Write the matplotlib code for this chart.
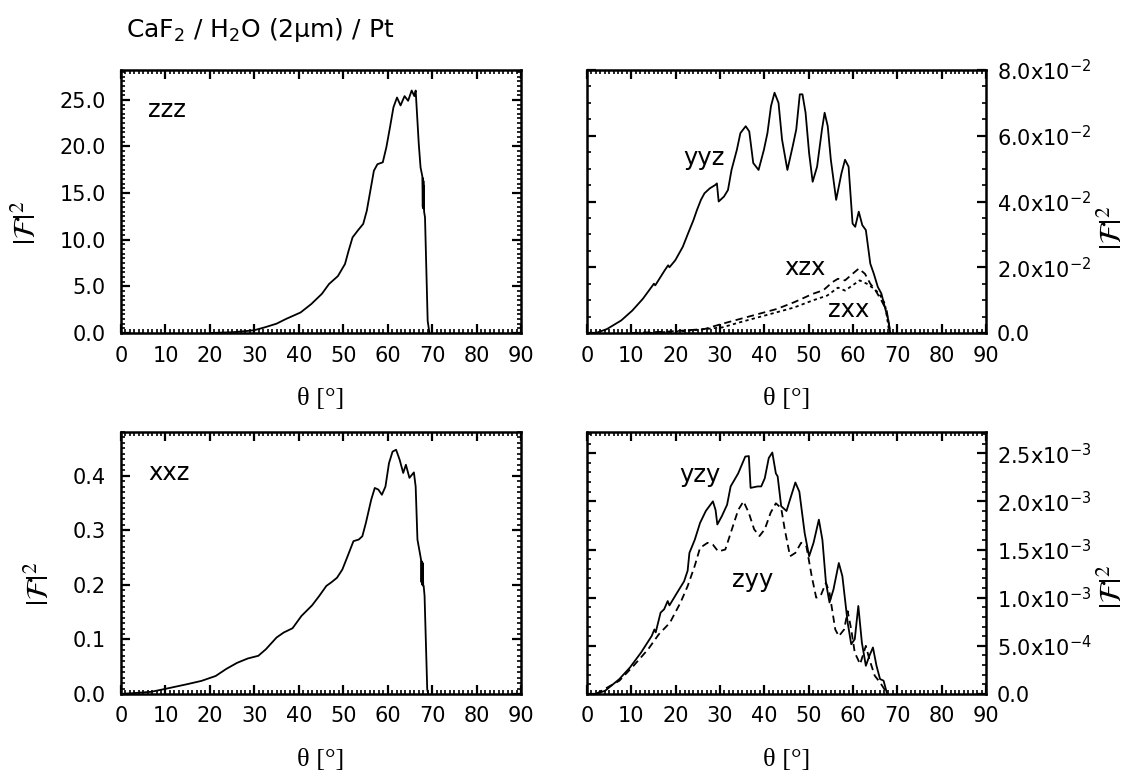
import matplotlib
matplotlib.use("Agg")
import matplotlib.pyplot as plt
from matplotlib.ticker import MultipleLocator, FixedLocator, FixedFormatter

plt.rcParams['font.family'] = ['DejaVu Sans']
plt.rcParams['mathtext.fontset'] = 'dejavusans'
plt.rcParams['xtick.labelsize'] = 15
plt.rcParams['ytick.labelsize'] = 15

# ---------------- data ----------------
title = "CaF$_2$ / H$_2$O (2\u03bcm) / Pt"

# zzz (top-left)
zzz_theta = [20, 25, 28, 30, 32.3, 35, 37.1, 40.4, 42.8, 45.2, 46.8, 48.8, 50.4, 51.2, 52.1,
             53.3, 54.5, 55.3, 56.1, 56.9, 57.7, 58.9, 59.7, 60.5, 61.3, 62.1, 62.9, 63.8,
             64.6, 65.4, 66.0, 66.3, 67.0, 67.4, 67.8, 67.9, 67.95, 68.0, 68.05, 68.1, 68.15,
             68.2, 68.4, 69.0, 69.4]
zzz_val = [0.0, 0.08, 0.2, 0.3, 0.6, 1.0, 1.5, 2.2, 3.1, 4.2, 5.25, 6.1, 7.4, 8.8, 10.25,
           11.0, 11.7, 13.1, 15.25, 17.4, 18.1, 18.3, 19.9, 22.0, 24.2, 25.25, 24.4, 25.4,
           24.9, 26.0, 25.4, 26.0, 20.25, 17.75, 16.8, 13.5, 16.6, 13.4, 16.3, 13.3, 15.8,
           13.0, 12.4, 1.3, 0.0]

# yyz (top-right, solid)
yyz_theta = [2.0, 4.5, 7.7, 10.2, 12.6, 15.1, 15.4, 17.5, 18.3, 18.6, 19.9, 21.6, 22.8, 24.0,
             24.8, 25.7, 26.5, 27.7, 28.9, 29.3, 29.7, 30.9, 31.8, 32.6, 33.8, 34.6, 35.8,
             36.6, 37.5, 38.7, 39.9, 40.7, 41.5, 42.3, 43.2, 44.0, 45.2, 46.4, 47.2, 48.0,
             48.6, 49.3, 50.1, 50.9, 51.9, 53.0, 53.6, 54.3, 55.0, 56.2, 57.4, 58.2, 59.0,
             59.9, 60.5, 61.3, 62.1, 62.9, 63.9, 64.7, 65.6, 66.4, 67.2, 68.0, 68.4]
yyz_val = [0.0, 0.0012, 0.0038, 0.0068, 0.0104, 0.0150, 0.0145, 0.0190, 0.0206, 0.0200, 0.0221,
           0.0262, 0.0303, 0.0343, 0.0374, 0.0405, 0.0425, 0.0440, 0.0450, 0.0455, 0.0400,
           0.0415, 0.0435, 0.0496, 0.0557, 0.0608, 0.0629, 0.0613, 0.0517, 0.0496, 0.0557,
           0.0608, 0.0690, 0.0731, 0.0700, 0.0588, 0.0496, 0.0568, 0.0619, 0.0726, 0.0726,
           0.0670, 0.0547, 0.0460, 0.0506, 0.0619, 0.0670, 0.0629, 0.0527, 0.0405, 0.0486,
           0.0527, 0.0506, 0.0333, 0.0323, 0.0369, 0.0328, 0.0313, 0.0211, 0.0180, 0.0140,
           0.0120, 0.0078, 0.0038, 0.0]

# xzx (top-right, dashed)
xzx_theta = [10, 18, 26.5, 30.5, 34.6, 38.7, 42.8, 46.8, 50.9, 53.3, 55.4, 56.6, 58.2, 59.9,
             61.3, 62.7, 63.9, 65.1, 66.4, 67.6, 68.4]
xzx_val = [0.0, 0.0004, 0.0012, 0.0028, 0.0043, 0.0058, 0.0073, 0.0094, 0.0119, 0.0130, 0.0155,
           0.0165, 0.0160, 0.0180, 0.0196, 0.0180, 0.0150, 0.0129, 0.0099, 0.0068, 0.0]

# zxx (top-right, fine dashed)
zxx_theta = [14, 22, 30.5, 34.6, 38.7, 42.8, 46.8, 50.9, 54.2, 56.6, 58.2, 59.9, 61.5, 63.1,
             64.7, 65.9, 67.2, 68.2]
zxx_val = [0.0, 0.0006, 0.0017, 0.0033, 0.0048, 0.0063, 0.0078, 0.0099, 0.0114, 0.0138, 0.0129,
           0.0145, 0.0160, 0.0150, 0.0135, 0.0120, 0.0089, 0.0]

# xxz (bottom-left)
xxz_theta = [0, 6.8, 10.9, 14.9, 18.1, 21.3, 23.7, 26.1, 28.5, 30.9, 32.6, 35.0, 36.6, 38.6,
             40.6, 43.0, 44.6, 46.2, 47.4, 48.6, 49.8, 51.0, 52.3, 53.5, 54.3, 55.1, 56.3,
             57.1, 57.9, 58.7, 59.5, 60.3, 61.1, 61.9, 62.7, 63.5, 64.1, 64.9, 65.9, 66.3,
             66.7, 67.5, 67.6, 67.7, 67.8, 67.9, 68.0, 68.1, 68.3, 68.9, 69.1]
xxz_val = [0.0, 0.004, 0.011, 0.018, 0.024, 0.033, 0.046, 0.057, 0.065, 0.070, 0.082, 0.1035,
           0.1126, 0.1205, 0.143, 0.1625, 0.1796, 0.198, 0.205, 0.213, 0.228, 0.2527, 0.280,
           0.283, 0.289, 0.3135, 0.356, 0.3775, 0.3745, 0.365, 0.380, 0.423, 0.444, 0.4475,
           0.429, 0.405, 0.420, 0.396, 0.406, 0.380, 0.283, 0.2466, 0.205, 0.243, 0.200, 0.240,
           0.198, 0.198, 0.180, 0.009, 0.0]

# yzy (bottom-right, solid)
yzy_theta = [2.0, 4.1, 7.3, 9.7, 12.2, 14.6, 15.2, 15.5, 16.6, 17.4, 18.2, 18.6, 20.3, 21.9,
             22.7, 23.1, 24.3, 25.5, 26.8, 28.4, 29.0, 29.4, 30.4, 31.6, 32.4, 34.1, 35.7,
             36.5, 36.9, 38.5, 39.3, 40.1, 41.0, 41.8, 42.6, 43.0, 43.8, 45.0, 45.8, 47.0,
             47.9, 49.1, 50.1, 51.1, 52.3, 53.1, 53.9, 54.7, 55.6, 56.8, 57.6, 58.8, 59.6,
             60.4, 61.2, 62.0, 62.9, 63.7, 64.5, 65.3, 66.1, 66.9, 67.7]
yzy_val = [0.0, 3.4e-5, 1.55e-4, 2.76e-4, 4.31e-4, 6.03e-4, 6.7e-4, 6.4e-4, 8.45e-4, 8.8e-4,
           9.65e-4, 9.2e-4, 1.05e-3, 1.17e-3, 1.28e-3, 1.465e-3, 1.60e-3, 1.776e-3, 1.90e-3,
           2.0e-3, 1.91e-3, 1.76e-3, 1.845e-3, 1.965e-3, 2.155e-3, 2.29e-3, 2.465e-3, 2.47e-3,
           2.14e-3, 2.155e-3, 2.155e-3, 2.24e-3, 2.45e-3, 2.507e-3, 2.29e-3, 2.26e-3, 1.95e-3,
           1.90e-3, 2.02e-3, 2.196e-3, 2.10e-3, 1.67e-3, 1.43e-3, 1.57e-3, 1.81e-3, 1.60e-3,
           1.155e-3, 9.5e-4, 1.086e-3, 1.36e-3, 1.224e-3, 7.4e-4, 5.17e-4, 5.7e-4, 9.14e-4,
           5.34e-4, 2.93e-4, 3.97e-4, 4.83e-4, 2.93e-4, 1.55e-4, 1.38e-4, 0.0]

# zyy (bottom-right, dashed)
zyy_theta = [2.0, 7.3, 10.5, 13.8, 16.2, 18.7, 21.1, 22.7, 24.3, 25.5, 27.2, 28.4, 29.6, 31.2,
             32.4, 34.1, 35.3, 36.5, 37.7, 38.9, 40.1, 41.4, 42.6, 43.8, 44.6, 45.8, 47.0,
             48.3, 49.5, 50.7, 51.7, 52.7, 53.9, 54.7, 56.0, 56.8, 58.0, 58.8, 59.6, 60.4,
             61.6, 62.9, 63.7, 64.9, 66.1, 67.3, 67.7]
zyy_val = [0.0, 1.38e-4, 2.93e-4, 4.65e-4, 6.2e-4, 7.4e-4, 9.5e-4, 1.12e-3, 1.33e-3, 1.517e-3,
           1.57e-3, 1.55e-3, 1.48e-3, 1.50e-3, 1.67e-3, 1.91e-3, 2.0e-3, 1.88e-3, 1.71e-3,
           1.64e-3, 1.71e-3, 1.88e-3, 1.98e-3, 1.93e-3, 1.71e-3, 1.43e-3, 1.465e-3, 1.57e-3,
           1.53e-3, 1.22e-3, 1.0e-3, 1.02e-3, 1.155e-3, 1.05e-3, 6.7e-4, 6.0e-4, 6.7e-4,
           8.6e-4, 6.7e-4, 4.3e-4, 3.1e-4, 5.0e-4, 3.6e-4, 1.9e-4, 1.2e-4, 3.4e-5, 0.0]

x_ticks = [0, 10, 20, 30, 40, 50, 60, 70, 80, 90]
tl_yticks = [0, 5, 10, 15, 20, 25]
tl_ylabels = ["0.0", "5.0", "10.0", "15.0", "20.0", "25.0"]
bl_yticks = [0, 0.1, 0.2, 0.3, 0.4]
bl_ylabels = ["0.0", "0.1", "0.2", "0.3", "0.4"]
tr_yticks = [0, 0.02, 0.04, 0.06, 0.08]
tr_ylabels = ["0.0", "2.0x10$^{-2}$", "4.0x10$^{-2}$", "6.0x10$^{-2}$", "8.0x10$^{-2}$"]
br_yticks = [0, 5e-4, 1e-3, 1.5e-3, 2e-3, 2.5e-3]
br_ylabels = ["0.0", "5.0x10$^{-4}$", "1.0x10$^{-3}$", "1.5x10$^{-3}$", "2.0x10$^{-3}$",
              "2.5x10$^{-3}$"]

# ---------------- figure ----------------
W, H = 1127, 776
fig = plt.figure(figsize=(W / 100, H / 100), dpi=100)


def add_ax(x0, x1, y0, y1):
    return fig.add_axes([x0 / W, 1 - y1 / H, (x1 - x0) / W, (y1 - y0) / H])


ax_tl = add_ax(121, 521, 70, 333)
ax_tr = add_ax(587, 986, 70, 333)
ax_bl = add_ax(121, 521, 432, 694)
ax_br = add_ax(587, 986, 432, 694)

LW = 1.3
TICK_FS = 15
ANN_FS = 17.5
ylab = r'$|\mathcal{F}|^{2}$'

ax_tl.plot(zzz_theta, zzz_val, color='black', lw=LW)
ax_tr.plot(yyz_theta, yyz_val, color='black', lw=LW)
ax_tr.plot(xzx_theta, xzx_val, color='black', lw=LW, ls=(0, (4, 2.5)))
ax_tr.plot(zxx_theta, zxx_val, color='black', lw=LW, ls=(0, (1.8, 1.8)))
ax_bl.plot(xxz_theta, xxz_val, color='black', lw=LW)
ax_br.plot(yzy_theta, yzy_val, color='black', lw=LW)
ax_br.plot(zyy_theta, zyy_val, color='black', lw=LW, ls=(0, (4, 2.5)))

settings = [
    (ax_tl, 28.2, tl_yticks, tl_ylabels, 0.5, 'left'),
    (ax_tr, 0.08, tr_yticks, tr_ylabels, 0.005, 'right'),
    (ax_bl, 0.48, bl_yticks, bl_ylabels, 0.01, 'left'),
    (ax_br, 2.72e-3, br_yticks, br_ylabels, 1e-4, 'right'),
]

for ax, ytop, yt, yl, ymin, side in settings:
    ax.set_xlim(0, 90)
    ax.set_ylim(0, ytop)
    ax.xaxis.set_major_locator(FixedLocator(x_ticks))
    ax.xaxis.set_major_formatter(FixedFormatter([str(v) for v in x_ticks]))
    ax.xaxis.set_minor_locator(MultipleLocator(1))
    ax.yaxis.set_major_locator(FixedLocator(yt))
    ax.yaxis.set_major_formatter(FixedFormatter(yl))
    ax.yaxis.set_minor_locator(MultipleLocator(ymin))
    for sp in ax.spines.values():
        sp.set_linewidth(1.8)
    ax.tick_params(which='both', direction='in', top=True, bottom=True, left=True, right=True)
    ax.tick_params(which='major', length=6.5, width=1.6, labelsize=TICK_FS)
    ax.tick_params(which='minor', length=3.2, width=1.2)
    ax.tick_params(axis='x', pad=9)
    if side == 'left':
        ax.tick_params(axis='y', pad=11, labelleft=True, labelright=False)
    else:
        ax.tick_params(axis='y', pad=8, labelleft=False, labelright=True)
        ax.yaxis.set_label_position('right')
    ax.set_xlabel('\u03b8 [\u00b0]', family='Liberation Serif', fontsize=19, labelpad=16)
    ax.set_ylabel(ylab, fontsize=22, math_fontfamily='stix', rotation=90)

ax_tl.yaxis.set_label_coords(-0.1975, 0.42)
ax_bl.yaxis.set_label_coords(-0.165, 0.42)
ax_tr.yaxis.set_label_coords(1.283, 0.40)
ax_br.yaxis.set_label_coords(1.283, 0.41)

ax_tl.text(6.1, 23.9, 'zzz', fontsize=ANN_FS, va='center', ha='left')
ax_bl.text(6.1, 0.404, 'xxz', fontsize=ANN_FS, va='center', ha='left')
ax_tr.text(21.7, 0.0532, 'yyz', fontsize=ANN_FS, va='center', ha='left')
ax_tr.text(44.4, 0.0198, 'xzx', fontsize=ANN_FS, va='center', ha='left')
ax_tr.text(54.4, 0.0070, 'zxx', fontsize=ANN_FS, va='center', ha='left')
ax_br.text(20.8, 2.27e-3, 'yzy', fontsize=ANN_FS, va='center', ha='left')
ax_br.text(32.7, 1.18e-3, 'zyy', fontsize=ANN_FS, va='center', ha='left')

fig.text(126 / W, 1 - 37 / H, title, fontsize=18, ha='left', va='baseline')

fig.savefig('out.png', dpi=100)
